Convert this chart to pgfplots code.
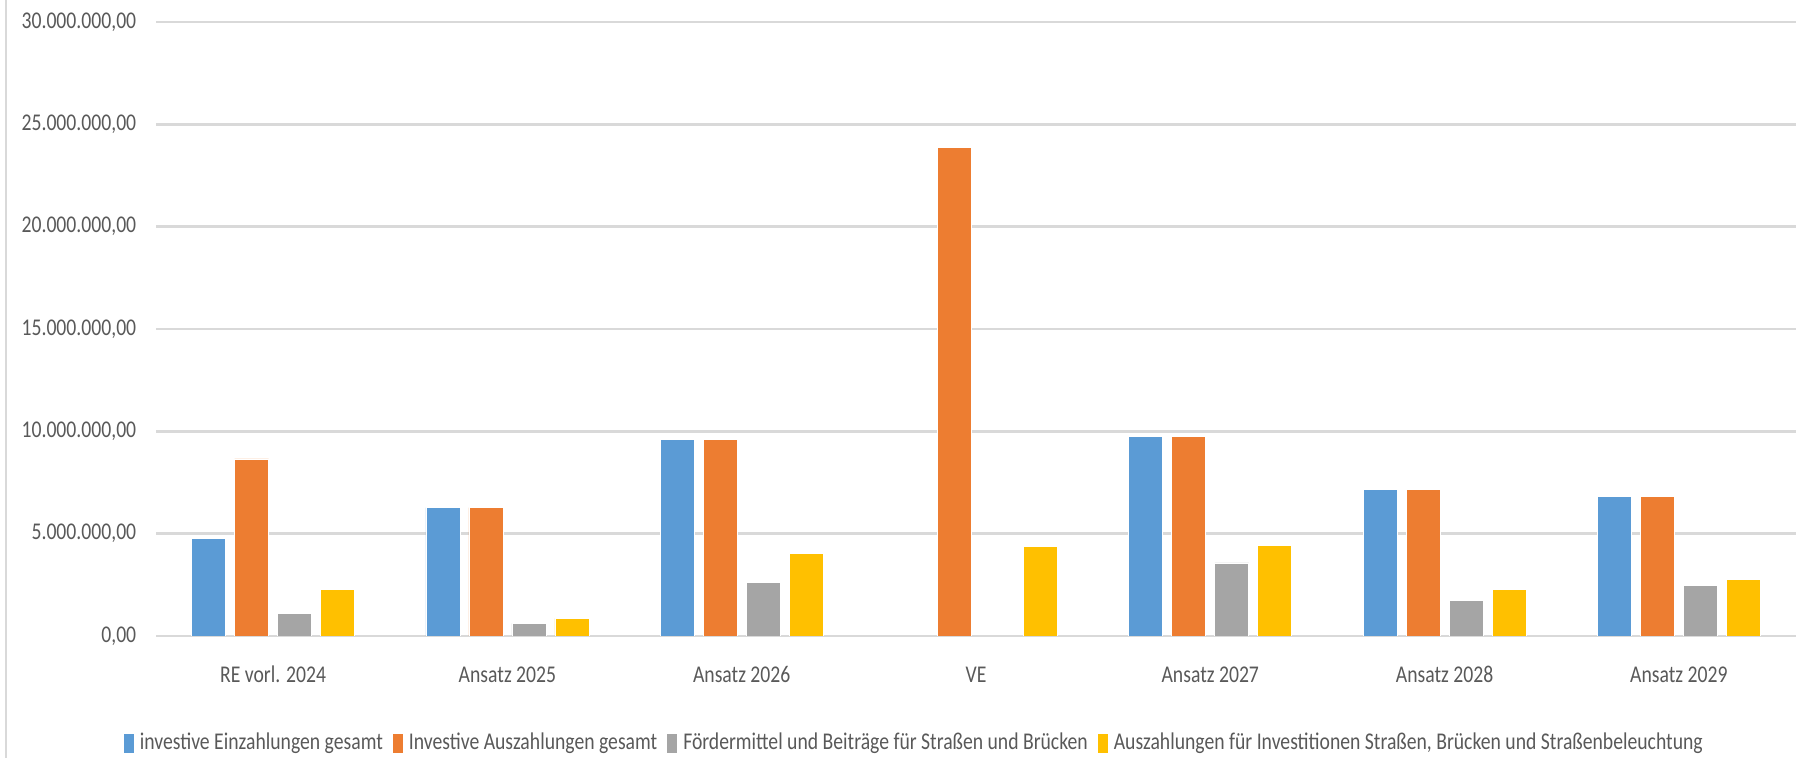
\documentclass[border=0pt]{standalone}
\usepackage{pgfplots}
\pgfplotsset{compat=1.18}
\usepackage{fontspec}
\setmainfont{Carlito}[FakeStretch=0.82]
\definecolor{cblue}{HTML}{5B9BD5}
\definecolor{corange}{HTML}{ED7D31}
\definecolor{cgray}{HTML}{A5A5A5}
\definecolor{cyellow}{HTML}{FFC000}
\definecolor{gridgray}{HTML}{D9D9D9}
\definecolor{textgray}{HTML}{595959}
\begin{document}
\begin{tikzpicture}
\path[use as bounding box] (0,0) rectangle (907pt,379pt);
\draw[color=gridgray, line width=1pt] (3pt,0) -- (3pt,379pt);
\begin{axis}[
  at={(78pt,61pt)}, anchor=south west,
  scale only axis, width=820pt, height=307pt,
  ybar=4.5pt, bar width=17pt,
  xmin=-0.5, xmax=6.5, ymin=0, ymax=30,
  xtick={0,...,6},
  xticklabels={RE vorl. 2024, Ansatz 2025, Ansatz 2026, VE, Ansatz 2027, Ansatz 2028, Ansatz 2029},
  ytick={0,5,10,15,20,25,30},
  yticklabels={{0,00},{5.000.000,00},{10.000.000,00},{15.000.000,00},{20.000.000,00},{25.000.000,00},{30.000.000,00}},
  ymajorgrids, grid style={gridgray, line width=1.3pt},
  axis line style={draw=none}, major tick length=0pt,
  tick label style={font=\fontsize{12}{14}\selectfont, text=textgray},
  xticklabel style={anchor=base, yshift=-23.5pt},
  yticklabel style={anchor=east, inner sep=0pt, xshift=-9.7pt},
  legend columns=4,
  legend style={at={(0.463,-0.174)}, anchor=center, draw=none, fill=none,
    font=\fontsize{12}{14}\selectfont, text=textgray,
    /tikz/every even column/.append style={column sep=3pt},
    /tikz/every odd column/.append style={column sep=1pt}},
  legend image code/.code={\fill[#1, draw=none] (0pt,-5pt) rectangle (5pt,4.5pt);},
  every axis plot/.append style={draw=white, line width=0.3pt},
]
\addplot[fill=cblue] coordinates {(0,4.75) (1,6.27) (2,9.61) (4,9.77) (5,7.15) (6,6.82)};
\addplot[fill=corange] coordinates {(0,8.65) (1,6.27) (2,9.61) (3,23.87) (4,9.77) (5,7.15) (6,6.82)};
\addplot[fill=cgray] coordinates {(0,1.11) (1,0.62) (2,2.62) (4,3.57) (5,1.72) (6,2.46)};
\addplot[fill=cyellow] coordinates {(0,2.28) (1,0.86) (2,4.04) (3,4.36) (4,4.43) (5,2.28) (6,2.78)};
\legend{investive Einzahlungen gesamt, Investive Auszahlungen gesamt, Fördermittel und Beiträge für Straßen und Brücken, {Auszahlungen für Investitionen Straßen, Brücken und Straßenbeleuchtung}}
\end{axis}
\end{tikzpicture}
\end{document}
